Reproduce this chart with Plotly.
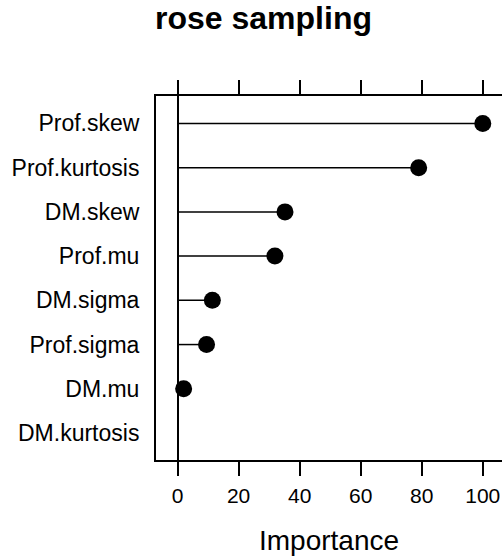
import plotly.graph_objects as go

categories = ["Prof.skew", "Prof.kurtosis", "DM.skew", "Prof.mu",
              "DM.sigma", "Prof.sigma", "DM.mu", "DM.kurtosis"]
values = [100.0, 79.0, 35.2, 31.9, 11.4, 9.5, 2.0, 0.0]
x_ticks = [0, 20, 40, 60, 80, 100]
title_text = "rose sampling"
x_title = "Importance"

FONT = "Liberation Sans, Arial, Helvetica, sans-serif"

# lollipop stems built from the data
seg_x, seg_y = [], []
for c, v in zip(categories, values):
    seg_x += [0, v, None]
    seg_y += [c, c, None]

fig = go.Figure()
fig.add_trace(go.Scatter(x=seg_x, y=seg_y, mode="lines",
                         line=dict(color="black", width=1.5),
                         hoverinfo="skip", showlegend=False))
fig.add_trace(go.Scatter(x=values, y=categories, mode="markers",
                         marker=dict(color="black", opacity=1,
                                     size=[17 if v > 0 else 0 for v in values],
                                     line=dict(width=0)),
                         showlegend=False))

W, H = 502, 559
left, top, bottom = 156, 96, 99

fig.update_layout(
    width=W, height=H,
    margin=dict(l=left, r=0, t=top, b=bottom, pad=0, autoexpand=False),
    paper_bgcolor="white", plot_bgcolor="white",
    font=dict(family=FONT, color="black"),
    title=dict(text="<b>" + title_text + "</b>", x=263.5 / W, xanchor="center",
               xref="container", y=1 - 18 / H, yanchor="middle",
               yref="container",
               font=dict(size=32, family=FONT, color="black")),
    xaxis=dict(range=[-7.06, 106.3], tickvals=x_ticks,
               ticktext=[str(t) for t in x_ticks], automargin=False,
               ticks="outside", ticklen=14, tickwidth=1.5, tickcolor="black",
               mirror="ticks", showline=True, linecolor="black", linewidth=2,
               showgrid=False, zeroline=True, zerolinecolor="black",
               zerolinewidth=2, ticklabelstandoff=2,
               tickfont=dict(size=21, family=FONT, color="black"),
               title=dict(text=x_title, standoff=24,
                          font=dict(size=28, family=FONT, color="black"))),
    yaxis=dict(type="category", categoryorder="array", automargin=False,
               categoryarray=categories[::-1], range=[-0.61, 7.62],
               showline=True, linecolor="black", linewidth=2, mirror=False,
               ticks="", showgrid=False, zeroline=False,
               ticklabelstandoff=10,
               tickfont=dict(size=23, family=FONT, color="black")),
)

fig.write_html("out.html",
               config={"displayModeBar": False},
               post_script="document.body.style.margin='0px';"
                           "document.body.style.overflow='hidden';")
